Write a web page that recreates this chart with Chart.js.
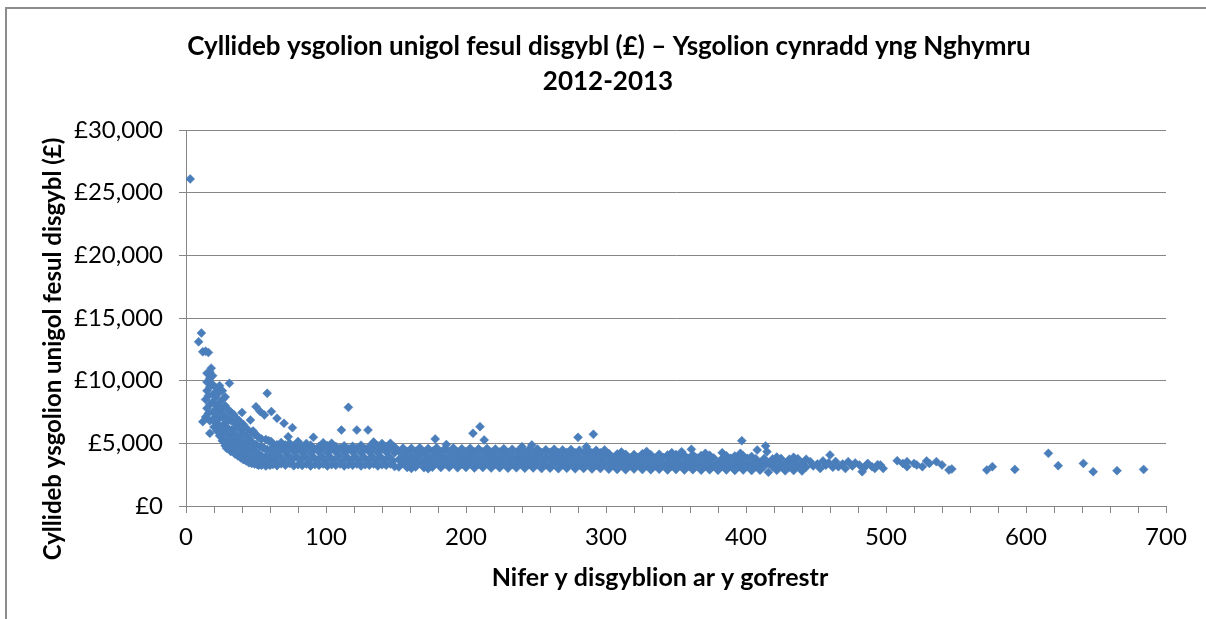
<!DOCTYPE html>
<html>
<head>
<meta charset="utf-8">
<script src="https://cdn.jsdelivr.net/npm/chart.js@4.4.1/dist/chart.umd.min.js"></script>
<style>
  html, body { margin: 0; padding: 0; background: #fff; overflow: hidden; }
  #wrap { position: relative; width: 1206px; height: 619px; overflow: hidden; }
  #frameL { position: absolute; left: 5px; top: 7px; width: 2px; height: 700px; background: #8c8c8c; pointer-events: none; }
  #frameT { position: absolute; left: 5px; top: 7px; width: 1300px; height: 2px; background: #8c8c8c; pointer-events: none; }
  canvas { position: absolute; left: 0; top: 0; }
</style>
</head>
<body>
<div id="wrap">
  <canvas id="c" width="1206" height="619"></canvas>
  <div id="frameL"></div>
  <div id="frameT"></div>
</div>
<script>
const titleLines = ['Cyllideb ysgolion unigol fesul disgybl (£) – Ysgolion cynradd yng Nghymru', '2012-2013'];
const xTitle = 'Nifer y disgyblion ar y gofrestr';
const yTitle = 'Cyllideb ysgolion unigol fesul disgybl (£)';
const xTickValues = [0, 100, 200, 300, 400, 500, 600, 700];
const yTickValues = [0, 5000, 10000, 15000, 20000, 25000, 30000];

// [pupils on roll, budget per pupil £]
const tinySchools = [
[3,26100],[9,13100],[11,13800],[12,12300],[14,12350],[16,12250],
[15,10600],[15,9900],[15,9200],[14,8500],[15,7800],[14,7100],[12,6730],
[17,10700],[18,11000],[17,10200],[17,9500],[16,8800],[17,8100],[16,7400],[17,6800],[17,5800],
[19,10400],[19,9700],[20,9000],[19,8300],[20,7600],[19,6900],[20,6300],
[22,9400],[21,8700],[22,8000],[21,7300],[22,6600],[22,6000],
[24,9600],[23,9000],[24,8300],[24,7600],[23,6900],[24,6200],[24,5600],
[26,9200],[26,8500],[25,7800],[26,7100],[26,6400],[25,5800],[26,5200],
[28,8700],[28,8000],[27,7300],[28,6600],[28,5900],[27,5300],[28,4800],
[30,7700],[31,9790],[30,7000],[29,6300],[30,5700],[30,5100],[29,4600]
];
const smallSchools = [
[32,7500],[32,6800],[33,6100],[32,5400],[33,4800],[32,4350],
[34,7300],[35,6600],[34,5900],[35,5200],[34,4600],[35,4150],
[36,7000],[37,6300],[36,5600],[37,5000],[36,4400],[37,4000],
[38,6800],[39,6100],[38,5400],[39,4800],[38,4200],[39,3850],
[40,7470],[41,6500],[40,5800],[41,5100],[40,4500],[41,3950],[41,3700],
[42,6300],[43,5600],[42,4900],[43,4300],[42,3800],[43,3600],
[44,6100],[45,5400],[44,4700],[45,4100],[44,3650],[45,3450],
[46,6860],[47,5900],[46,5200],[47,4500],[46,3950],[47,3400],
[48,5980],[49,5700],[48,5000],[49,4400],[48,3800],[49,3350],
[50,7920],[51,5600],[50,4900],[51,4250],[50,3700],[51,3300],
[53,7530],[52,5450],[53,4750],[52,4100],[53,3550],[52,3250],
[54,5350],[55,4650],[54,4000],[55,3450],[54,3250],
[56,7260],[57,5300],[56,4600],[57,3950],[56,3400],[57,3200],
[58,8990],[59,5200],[58,4500],[59,3850],[58,3300],
[60,5150],[60,4450],[60,3800],[60,3250],
[61,7530],[65,7000],[70,6600],[76,6250],[73,5530]
];
const schools60to150 = [
[62,3310],[62,3960],[62,4620],[61,5120],
[65,3220],[64,3640],[65,4270],[65,4890],
[68,3370],[67,3980],[68,4580],[68,5060],
[71,3260],[70,3660],[71,4310],[71,4870],
[74,3390],[73,4020],[74,4650],[74,5010],
[77,3210],[76,3700],[77,4330],[77,4800],
[80,3300],[79,3940],[80,4560],[80,5150],
[83,3240],[82,3670],[83,4260],[83,4760],
[86,3360],[85,3960],[86,4590],[86,4990],
[89,3200],[88,3610],[89,4240],[89,4850],
[92,3310],[91,3900],[92,4550],[91,5480],
[95,3250],[94,3660],[95,4300],[95,4760],
[98,3350],[97,3950],[98,4610],[98,5050],
[101,3200],[100,3590],[101,4250],[101,4820],
[104,3300],[103,3900],[104,4540],[104,5000],
[107,3250],[106,3650],[107,4300],[107,4750],
[110,3350],[109,3960],[110,4600],[111,6060],
[113,3200],[112,3600],[113,4240],[113,4800],
[116,3300],[115,3910],[116,4550],[116,7870],
[119,3250],[118,3650],[119,4300],[119,4760],
[122,3350],[121,3950],[122,4600],[122,6060],
[125,3200],[124,3600],[125,4250],[125,4850],
[128,3300],[127,3900],[128,4550],[130,6060],
[131,3250],[130,3650],[131,4300],[131,4750],
[134,3350],[133,3950],[134,4600],[134,5100],
[137,3200],[136,3600],[137,4250],[137,4800],
[140,3300],[139,3900],[140,4550],[140,4980],
[143,3250],[142,3650],[143,4300],[143,4750],
[146,3350],[145,3950],[146,4600],[146,5000],
[149,3150],[148,3600],[149,4250],[149,4700]
];
const schools150to300 = [
[152,3120],[152,3720],[152,4380],
[155,3400],[155,4030],[155,4620],
[158,3080],[158,3690],[158,4340],
[161,3380],[161,3990],[161,4600],[161,3000],
[164,3110],[164,3710],[164,4360],
[167,3420],[167,4040],[167,4640],
[170,3060],[170,3680],[170,4330],
[173,3370],[173,3980],[173,4580],[173,2980],
[176,3100],[176,3720],[176,4370],[178,5350],
[179,3410],[179,4020],[179,4650],
[182,3070],[182,3690],[182,4320],
[185,3360],[185,3970],[185,4590],[186,4900],
[188,3090],[188,3710],[188,4350],
[191,3400],[191,4010],[191,4620],
[194,3050],[194,3670],[194,4310],
[197,3350],[197,3960],[197,4570],
[200,3080],[200,3700],[200,4340],
[203,3390],[203,4000],[203,4600],[205,5800],
[206,3040],[206,3660],[206,4300],
[209,3340],[209,3950],[209,4560],[210,6330],
[212,3070],[212,3690],[212,4320],[213,5270],
[215,3380],[215,3990],[215,4590],
[218,3030],[218,3650],[218,4290],
[221,3330],[221,3940],[221,4540],
[224,3060],[224,3680],[224,4310],
[227,3370],[227,3980],[227,4570],
[230,3020],[230,3640],[230,4280],
[233,3320],[233,3930],[233,4520],
[236,3050],[236,3670],[236,4300],
[239,3360],[239,3970],[239,4560],[240,4730],
[242,3010],[242,3630],[242,4270],
[245,3310],[245,3920],[245,4500],[247,4870],
[248,3040],[248,3660],[248,4290],
[251,3350],[251,3960],[251,4540],
[254,2990],[254,3620],[254,4260],
[257,3300],[257,3910],[257,4480],
[260,3020],[260,3650],[260,4280],
[263,3340],[263,3950],[263,4520],
[266,2980],[266,3610],[266,4250],
[269,3290],[269,3900],[269,4470],
[272,3010],[272,3640],[272,4270],
[275,3330],[275,3940],[275,4500],
[278,2970],[278,3600],[278,4240],[280,5480],
[281,3280],[281,3890],[281,4450],
[284,3000],[284,3630],[284,4260],[286,4730],
[287,3320],[287,3930],[287,4490],
[290,2960],[290,3590],[290,4230],[291,5720],
[293,3270],[293,3880],[293,4440],
[296,2990],[296,3620],[296,4250],
[299,3310],[299,3920],[299,4470]
];
const schools300to450 = [
[302,2940],[302,3560],[302,4180],
[305,3240],[305,3870],
[308,2920],[308,3540],[308,4150],
[311,3230],[311,3850],[311,4300],
[314,2900],[314,3520],[314,4120],
[317,3210],[317,3830],
[320,2950],[320,3560],[320,4100],
[323,3250],[323,3880],
[326,2910],[326,3530],[326,4160],
[329,3220],[329,3840],[329,4350],
[332,2890],[332,3500],[332,4090],
[335,3200],[335,3820],
[338,2930],[338,3550],[338,4130],
[341,3240],[341,3860],
[344,2880],[344,3490],[344,4070],
[347,3190],[347,3810],[347,4250],
[350,2920],[350,3530],[350,4100],
[353,3230],[353,3850],[354,4330],
[356,2870],[356,3480],[356,4040],
[359,3180],[359,3800],[361,4520],
[362,2900],[362,3520],[362,4080],
[365,3210],[365,3830],
[368,2860],[368,3470],[368,4020],
[371,3170],[371,3790],[371,4200],
[374,2890],[374,3500],[374,4050],
[377,3200],[377,3820],
[380,2850],[380,3460],
[383,3160],[383,3780],[383,4250],
[386,2880],[386,3490],[386,4000],
[389,3190],[389,3810],
[392,2840],[392,3450],[392,3980],
[395,3150],[395,3770],[396,4200],[397,5210],
[398,2870],[398,3480],[398,4010],
[401,3180],[401,3800],
[404,2830],[404,3440],[404,3950],
[407,3140],[407,3760],[408,4470],
[410,2860],[410,3470],
[413,3170],[413,3790],[414,4790],[415,4330],
[416,2700],[416,3430],
[419,3130],[419,3750],
[422,2850],[422,3460],[422,3900],
[425,3160],[425,3780],
[428,2810],[428,3420],
[431,3120],[431,3740],
[434,2840],[434,3450],[434,3880],
[437,3150],[437,3770],
[440,2800],[440,3410],
[443,3110],[443,3730]
];
const largeSchools = [
[446,3540],[448,3200],[451,3350],[453,3000],[455,3600],[457,3250],[460,4070],[459,3450],
[462,3100],[464,3550],[466,3140],[469,3350],[471,3000],[473,3540],[476,3200],[478,3430],
[481,3270],[483,2740],[484,3000],[486,3270],[487,3400],[490,3140],[492,3000],[494,3300],
[496,3270],[498,3000],
[508,3610],[512,3400],[515,3540],[515,3140],[520,3400],[522,3270],[526,3140],[529,3590],
[531,3400],[536,3540],[540,3270],[545,2870],[547,2950],[572,2870],[576,3140],[592,2920],
[616,4200],[623,3220],[641,3400],[648,2740],[665,2820],[684,2920]
];

const allSchools = [].concat(tinySchools, smallSchools, schools60to150, schools150to300, schools300to450, largeSchools)
  .map(([x, y]) => ({ x, y }));

const GRID = '#868686';
const FONT = 'Lato, "Open Sans", sans-serif';

const textPlugin = {
  id: 'texts',
  afterDraw(chart) {
    const ctx = chart.ctx;
    ctx.save();
    ctx.fillStyle = '#000';
    ctx.textAlign = 'center';
    ctx.textBaseline = 'middle';
    ctx.font = 'bold 26px ' + FONT;
    ctx.fillText(titleLines[0], 609, 47);
    ctx.fillText(titleLines[1], 608, 82);
    ctx.font = 'bold 25px ' + FONT;
    ctx.fillText(xTitle, 660, 578);
    ctx.font = 'bold 24px ' + FONT;
    ctx.translate(53, 349);
    ctx.rotate(-Math.PI / 2);
    ctx.fillText(yTitle, 0, 0);
    ctx.restore();
  }
};

new Chart(document.getElementById('c'), {
  type: 'scatter',
  data: {
    datasets: [{
      data: allSchools,
      pointStyle: 'rectRot',
      pointRadius: 4.5,
      pointHoverRadius: 4.5,
      backgroundColor: '#4A7EBB',
      borderColor: '#4A7EBB',
      borderWidth: 0.5
    }]
  },
  options: {
    responsive: false,
    animation: false,
    devicePixelRatio: 1,
    layout: { padding: { left: 0, top: 130, right: 40, bottom: 0 } },
    plugins: { legend: { display: false }, tooltip: { enabled: false }, title: { display: false } },
    scales: {
      x: {
        type: 'linear', min: 0, max: 700,
        afterBuildTicks: s => { const t = []; for (let v = 0; v <= 700; v += 20) t.push({ value: v }); s.ticks = t; },
        ticks: {
          autoSkip: false, maxRotation: 0, padding: 10, color: '#000',
          font: { family: FONT, size: 24 },
          callback: v => xTickValues.includes(v) ? String(v) : ''
        },
        grid: { drawOnChartArea: false, drawTicks: true, tickLength: 7, color: GRID },
        border: { color: GRID, width: 1 },
        afterFit: s => { s.height = 113; }
      },
      y: {
        min: 0, max: 30000,
        afterBuildTicks: s => { s.ticks = yTickValues.map(v => ({ value: v })); },
        ticks: {
          padding: 16, color: '#000',
          font: { family: FONT, size: 24 },
          callback: v => '£' + v.toLocaleString('en-GB')
        },
        grid: { color: GRID, tickLength: 7 },
        border: { color: GRID, width: 1 },
        afterFit: s => { s.width = 186; }
      }
    }
  },
  plugins: [textPlugin]
});
</script>
</body>
</html>
